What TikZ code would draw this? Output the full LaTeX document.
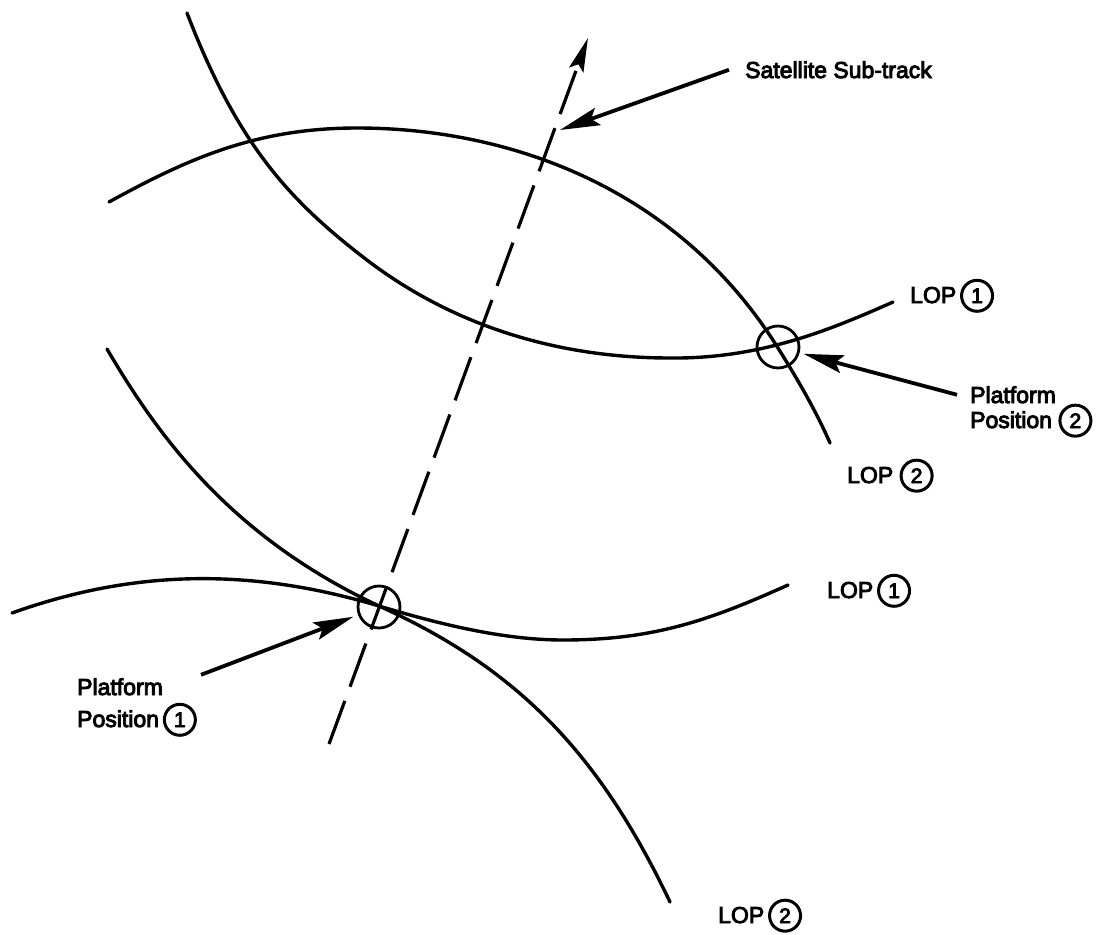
\documentclass[tikz,border=0pt]{standalone}
\usepackage{fontspec}
\setmainfont{Liberation Sans}[FakeBold=4]
\usetikzlibrary{arrows.meta}
\newcommand\cnum[1]{\tikz[baseline=(cn.base)]\node[circle,draw,line width=3pt,minimum size=31pt,inner sep=0pt,font=\fontsize{21}{21}\selectfont](cn){#1};}
\begin{document}
\begin{tikzpicture}[x=1pt,y=-1pt,
  lop/.style={line width=3.4pt, line cap=round, line join=round},
  ring/.style={circle, draw, line width=2.8pt, minimum size=42pt, inner sep=0pt},
  ptr/.style={line width=3.8pt, -{Stealth[length=40pt,width=18pt,inset=7pt]}},
  lbl/.style={font=\fontsize{23}{25}\selectfont, inner sep=0pt},
]
\useasboundingbox (0,0) rectangle (1112,935);
% lines of position
\draw[lop] (187,13) .. controls (237,143) and (288,199) .. (363,257)
  .. controls (453,327) and (560,358) .. (670,358)
  .. controls (760,359) and (830,330) .. (893,302);
\draw[lop] (109,202) .. controls (189,158) and (257,128) .. (357,128)
  .. controls (510,128) and (678,188) .. (778,348)
  .. controls (798,380) and (816,411) .. (830,443);
\draw[lop] (107,349) .. controls (157,434) and (229,536) .. (379,606)
  .. controls (519,669) and (600,755) .. (670,902);
\draw[lop] (12,613) .. controls (132,570) and (249,567) .. (379,606)
  .. controls (439,624) and (503,640) .. (563,640)
  .. controls (653,640) and (708,621) .. (788,585);
% platform positions
\node[ring] (p1) at (379,607) {};
\node[ring] (p2) at (778,347) {};
% satellite sub-track
\coordinate (trS) at (329,744);
\coordinate (trE) at (588,38);
\draw[line width=3.2pt, dash pattern=on 46pt off 15pt, -{Stealth[length=34pt,width=15pt,inset=6pt]}] (trS) -- (trE);
% labels
\node[lbl, anchor=base west] (lblSat) at (745,78) {Satellite Sub-track};
\node[lbl, anchor=base west] (lopA) at (910,303) {LOP\,\cnum{1}};
\node[lbl, anchor=base west] (pp2a) at (970,403) {Platform};
\node[lbl, anchor=base west] (pp2b) at (970,428) {Position \cnum{2}};
\node[lbl, anchor=base west] (lopB) at (847,483) {LOP \cnum{2}};
\node[lbl, anchor=base west] (lopC) at (827,598) {LOP\,\cnum{1}};
\node[lbl, anchor=base west] (pp1a) at (77,695) {Platform};
\node[lbl, anchor=base west] (pp1b) at (77,727) {Position\,\cnum{1}};
\node[lbl, anchor=base west] (lopD) at (718,923) {LOP\,\cnum{2}};
% pointers
\coordinate (tipSat) at (560,130);
\draw[ptr] ([xshift=-16pt]lblSat.west) -- (tipSat);
\draw[ptr, shorten >=4pt] ([xshift=-13pt]pp2a.west) -- (p2);
\draw[ptr, shorten >=5pt] ([xshift=38pt,yshift=12pt]pp1a.east) -- (p1);
\end{tikzpicture}
\end{document}
